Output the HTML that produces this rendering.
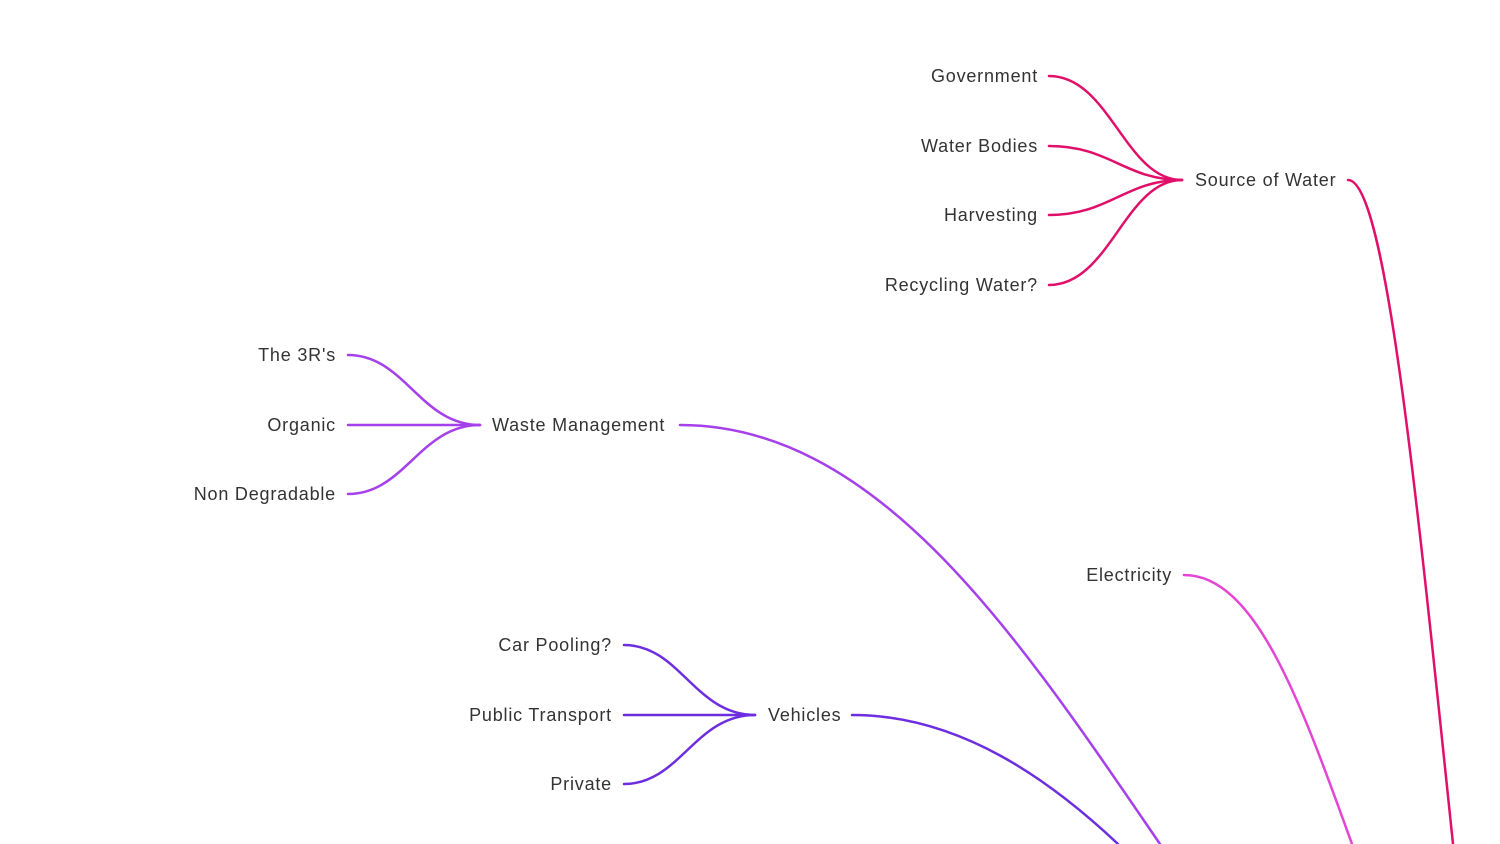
<!DOCTYPE html>
<html><head><meta charset="utf-8"><style>
html,body{margin:0;padding:0;background:#fff;width:1500px;height:844px;overflow:hidden}
text{font-family:"Liberation Sans","DejaVu Sans",sans-serif;font-size:18px;fill:#333;letter-spacing:0.8px}
</style></head><body>
<svg width="1500" height="844" viewBox="0 0 1500 844" xmlns="http://www.w3.org/2000/svg">
<g fill="none" stroke-width="2.5" stroke-linecap="round">
<g stroke="#e0106a">
<path d="M1049 76 C1110 76 1125 180 1182 180"/>
<path d="M1049 146 C1110 146 1125 180 1182 180"/>
<path d="M1049 215 C1110 215 1125 180 1182 180"/>
<path d="M1049 285 C1110 285 1125 180 1182 180"/>
<path d="M1348 180 C1385 180 1415 480 1453 844"/>
</g>
<g stroke="#a540ea">
<path d="M348 355 C405 355 420 425 480 425"/>
<path d="M348 425 L480 425"/>
<path d="M348 494 C405 494 420 425 480 425"/>
<path d="M680 425 C880 425 1020 640 1160 844"/>
</g>
<path stroke="#e345d5" d="M1184 575 C1255 575 1300 700 1352 844"/>
<g stroke="#6d2ee0">
<path d="M624 645 C680 645 695 715 755 715"/>
<path d="M624 715 L755 715"/>
<path d="M624 784 C680 784 695 715 755 715"/>
<path d="M852 715 C960 715 1050 780 1118 844"/>
</g>
</g>
<g text-anchor="end">
<text x="1038" y="82">Government</text>
<text x="1038" y="152">Water Bodies</text>
<text x="1038" y="221">Harvesting</text>
<text x="1038" y="291">Recycling Water?</text>
<text x="336" y="361">The 3R's</text>
<text x="336" y="431">Organic</text>
<text x="336" y="500">Non Degradable</text>
<text x="1172" y="581">Electricity</text>
<text x="612" y="651">Car Pooling?</text>
<text x="612" y="721">Public Transport</text>
<text x="612" y="790">Private</text>
</g>
<text x="1195" y="186">Source of Water</text>
<text x="492" y="431">Waste Management</text>
<text x="768" y="721">Vehicles</text>
</svg>
</body></html>
